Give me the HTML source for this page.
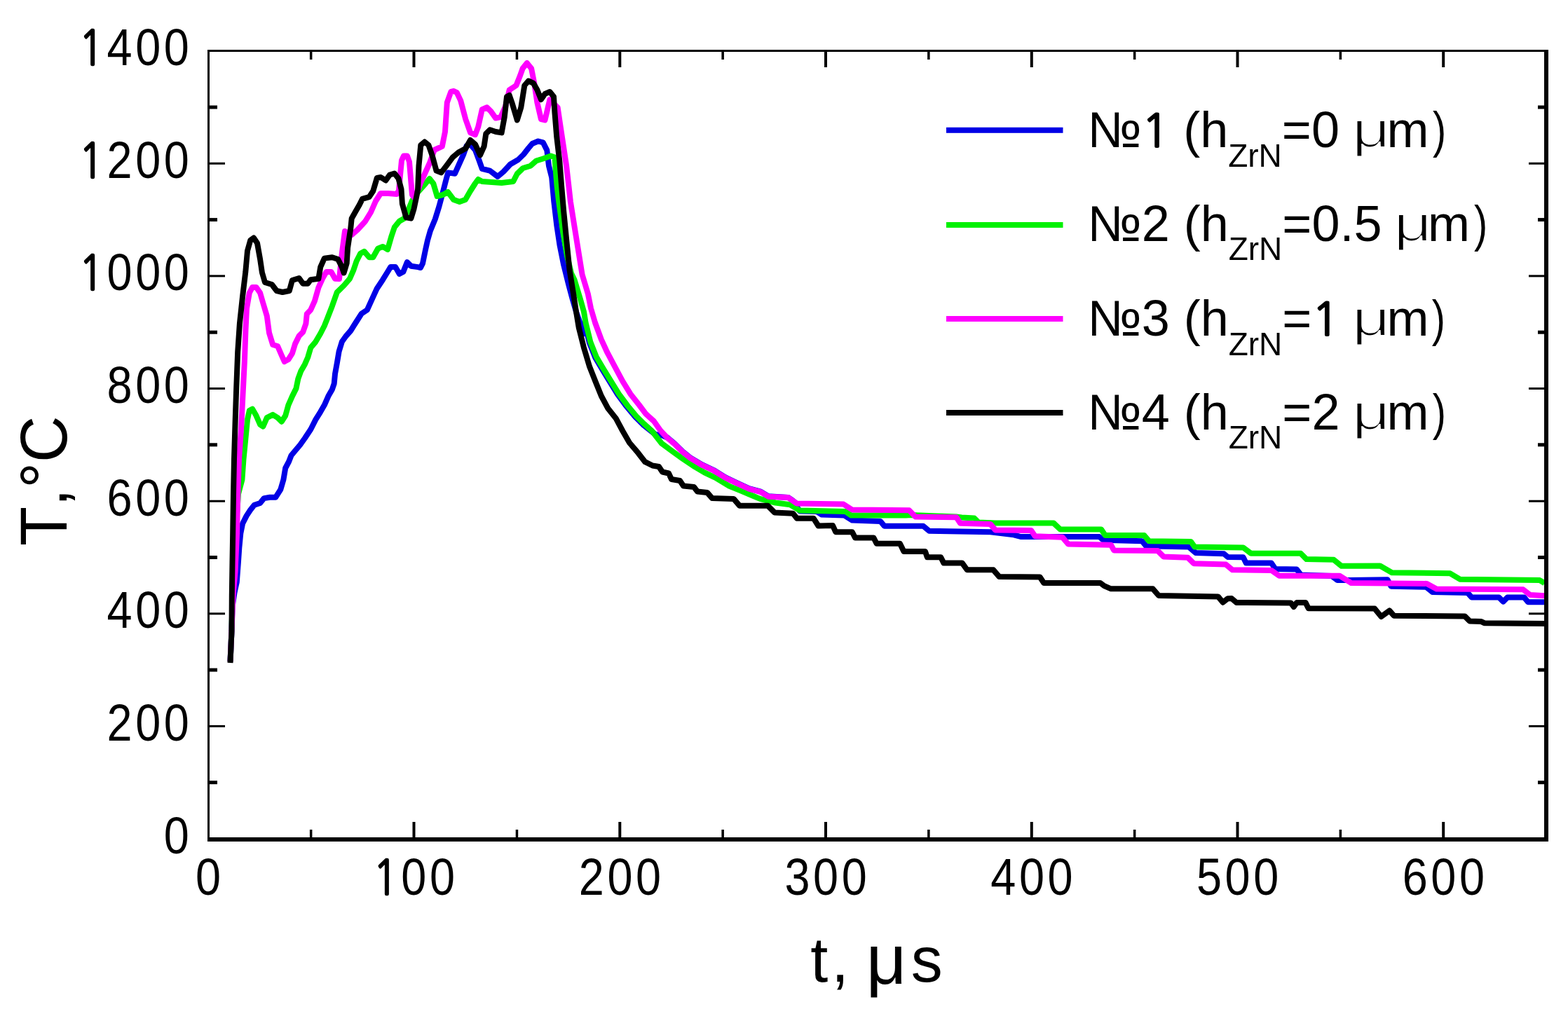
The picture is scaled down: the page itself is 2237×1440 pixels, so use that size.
<!DOCTYPE html>
<html><head><meta charset="utf-8"><title>T vs t</title>
<style>html,body{margin:0;padding:0;background:#fff;}svg{display:block;}text{font-family:'Liberation Sans', Arial, Helvetica, sans-serif;fill:#000;font-kerning:none;font-feature-settings:"kern" 0;}.one{font-family:NanumGothic,"Liberation Sans",sans-serif;}</style></head><body>
<svg xmlns="http://www.w3.org/2000/svg" width="2237" height="1440" viewBox="0 0 2237 1440">
<rect x="0" y="0" width="2237" height="1440" fill="#fff"/>
<path d="M328.5 944.0 L330.5 900.0 L331.5 866.0 L334.5 846.0 L337.8 830.6 L339.9 802.8 L341.3 781.9 L343.3 761.1 L346.1 747.2 L351.7 736.1 L357.2 727.8 L362.8 720.8 L371.1 718.0 L376.7 711.1 L385.0 709.7 L393.3 709.7 L400.3 698.6 L404.4 684.7 L407.2 668.0 L412.0 659.0 L415.5 650.0 L421.1 643.3 L428.1 635.0 L435.0 625.3 L443.3 612.8 L450.3 598.9 L457.2 587.8 L462.8 578.1 L468.3 565.6 L473.9 555.8 L476.7 547.5 L478.0 533.6 L480.8 518.3 L483.6 501.7 L487.8 487.8 L493.3 480.0 L500.3 472.0 L507.2 461.0 L515.6 447.8 L523.9 442.2 L530.8 426.9 L537.8 411.7 L546.1 399.2 L553.0 388.0 L557.2 381.1 L564.2 381.1 L569.7 390.8 L575.3 388.0 L580.8 374.2 L586.4 379.7 L596.1 381.1 L600.0 382.0 L603.0 376.0 L606.9 357.0 L610.0 343.0 L613.9 329.4 L620.8 312.8 L626.4 294.7 L631.9 273.9 L636.0 258.0 L639.2 246.4 L648.9 247.8 L655.8 232.5 L661.4 220.0 L665.6 208.0 L671.0 206.0 L678.0 214.0 L683.6 229.0 L687.8 240.8 L698.9 243.6 L710.0 252.0 L718.3 245.0 L728.0 234.5 L739.2 228.0 L746.9 220.5 L753.9 211.5 L759.4 205.0 L767.8 201.5 L774.7 203.3 L780.3 214.4 L783.0 236.7 L787.2 253.3 L790.3 287.8 L794.4 322.5 L798.6 350.3 L804.2 378.1 L811.1 405.8 L816.7 426.7 L822.0 445.0 L828.0 462.0 L834.0 476.0 L834.1 461.8 L841.0 489.6 L849.3 510.4 L859.1 527.1 L870.2 545.2 L881.3 563.2 L893.8 580.0 L906.3 595.0 L917.4 606.0 L935.0 620.0 L945.0 621.5 L952.2 624.5 L962.3 633.0 L973.5 644.2 L984.7 653.1 L1001.5 663.2 L1018.2 671.0 L1035.0 681.4 L1051.7 689.3 L1068.5 697.1 L1085.3 701.6 L1096.4 708.3 L1124.4 709.9 L1130.0 713.5 L1135.0 717.5 L1138.0 725.0 L1141.0 729.5 L1165.0 730.0 L1172.0 734.5 L1204.7 735.6 L1215.8 742.5 L1256.1 743.9 L1261.7 750.8 L1317.2 750.8 L1325.6 757.8 L1413.1 759.2 L1446.4 763.3 L1456.1 766.0 L1525.3 766.0 L1568.3 766.0 L1573.9 770.8 L1629.4 772.2 L1635.0 779.2 L1696.1 780.6 L1705.8 788.9 L1746.1 790.3 L1751.7 795.0 L1773.6 795.3 L1777.8 803.6 L1813.9 803.6 L1819.4 811.9 L1850.0 812.6 L1856.0 820.5 L1900.0 822.0 L1908.0 828.0 L1925.0 828.0 L1979.5 827.3 L1984.5 836.7 L2034.5 837.7 L2043.5 845.0 L2093.9 846.1 L2099.4 852.4 L2138.3 852.4 L2144.6 858.6 L2150.8 852.4 L2174.4 852.4 L2180.0 859.3 L2203.6 859.3" fill="none" stroke="#0000e6" stroke-width="8" stroke-linejoin="round" stroke-linecap="butt"/>
<path d="M328.5 944.0 L330.5 900.0 L331.8 850.0 L334.5 790.0 L337.5 740.0 L340.0 705.0 L345.4 684.7 L347.5 655.0 L350.3 626.7 L353.0 598.9 L355.8 586.0 L360.0 583.6 L365.6 593.3 L371.1 605.8 L375.3 608.6 L380.8 596.1 L389.2 591.9 L396.1 596.1 L401.7 601.7 L407.2 593.3 L411.4 578.1 L416.9 565.6 L422.5 554.4 L425.3 540.6 L429.4 529.4 L435.0 519.7 L439.2 510.0 L443.3 496.1 L450.3 487.8 L457.2 476.0 L462.8 465.0 L466.9 454.7 L473.9 436.7 L480.8 417.2 L490.6 407.5 L498.9 397.8 L504.4 385.3 L508.6 372.8 L514.2 361.7 L519.7 358.9 L526.7 367.2 L532.2 367.2 L539.2 354.7 L546.1 351.9 L553.0 356.1 L558.6 336.7 L562.8 324.2 L569.7 315.8 L576.7 311.7 L582.2 300.6 L587.8 286.7 L596.1 274.2 L601.7 268.0 L607.0 262.0 L612.8 255.0 L618.3 262.0 L623.6 280.0 L631.9 278.0 L638.9 273.9 L647.2 285.0 L655.6 288.0 L663.9 285.0 L670.8 273.0 L677.8 262.0 L682.2 256.0 L687.8 259.0 L701.7 260.0 L715.6 261.0 L732.2 259.0 L737.8 248.0 L746.1 240.0 L756.7 236.7 L765.0 229.5 L774.7 226.5 L785.8 222.5 L791.4 224.5 L792.8 243.6 L794.5 265.0 L797.2 287.8 L803.0 330.0 L809.0 365.0 L815.0 390.0 L819.4 399.0 L827.8 426.7 L833.0 445.0 L835.6 460.8 L842.5 488.6 L850.8 509.4 L860.6 526.1 L871.7 544.2 L882.8 562.2 L895.3 579.0 L907.8 594.0 L918.9 605.0 L930.0 615.0 L943.9 632.8 L957.8 643.0 L974.4 655.0 L991.1 666.1 L1005.0 674.4 L1020.4 681.6 L1040.6 693.9 L1057.3 700.6 L1074.4 707.8 L1084.2 711.9 L1106.4 717.5 L1127.2 720.3 L1141.1 728.6 L1206.1 730.0 L1214.4 735.6 L1292.2 735.6 L1300.0 735.0 L1364.0 737.5 L1372.0 738.5 L1390.0 739.5 L1396.0 745.5 L1420.0 746.6 L1503.1 746.5 L1512.8 755.6 L1571.1 755.6 L1576.7 763.9 L1632.2 763.9 L1639.2 772.2 L1698.9 772.9 L1704.4 780.6 L1773.6 781.4 L1784.7 789.7 L1855.6 789.7 L1863.9 798.1 L1902.8 798.8 L1913.9 807.8 L1968.9 807.5 L1985.8 817.2 L2068.9 818.3 L2082.8 826.7 L2196.7 828.1 L2203.6 832.2" fill="none" stroke="#00f000" stroke-width="8" stroke-linejoin="round" stroke-linecap="butt"/>
<path d="M328.5 944.0 L330.5 900.0 L332.5 850.0 L335.5 816.7 L338.0 761.1 L339.3 705.6 L341.0 655.0 L344.0 612.8 L346.1 571.1 L348.9 515.6 L350.5 470.0 L352.0 440.0 L355.8 418.0 L360.0 410.0 L365.6 410.0 L371.1 418.0 L375.3 432.5 L380.8 451.0 L384.0 475.0 L389.2 492.0 L396.1 494.0 L401.7 507.0 L405.8 516.0 L411.4 513.0 L416.9 504.4 L421.1 490.6 L426.7 479.4 L432.2 473.9 L436.4 462.0 L437.8 448.0 L443.3 442.2 L448.9 429.7 L454.4 410.3 L460.0 397.8 L465.6 388.0 L472.5 388.0 L478.0 397.8 L484.0 398.0 L488.0 360.0 L492.0 330.0 L497.0 333.0 L502.0 335.0 L510.0 328.0 L521.0 316.0 L529.0 303.0 L536.0 287.0 L543.0 276.0 L554.0 276.0 L566.0 277.0 L569.0 272.0 L571.0 250.0 L573.0 229.0 L576.0 222.5 L581.0 222.5 L584.0 231.0 L586.0 255.0 L588.0 278.0 L591.0 282.0 L595.0 275.0 L600.0 261.0 L606.0 248.0 L612.8 233.0 L619.7 214.0 L630.8 208.9 L635.0 188.0 L637.8 146.4 L643.3 131.0 L647.5 130.0 L651.7 132.0 L657.2 143.6 L664.2 170.0 L671.1 189.4 L678.0 192.2 L682.2 181.1 L687.8 156.1 L694.7 153.3 L700.3 158.9 L707.2 168.6 L714.2 167.2 L721.1 152.0 L726.7 128.3 L736.4 122.0 L742.0 108.0 L745.6 97.8 L751.8 90.0 L758.1 97.8 L762.2 118.6 L766.4 146.4 L771.9 170.0 L777.5 171.4 L781.7 153.3 L784.4 142.2 L790.0 148.0 L795.6 153.3 L799.7 181.1 L803.9 208.9 L808.1 236.7 L811.0 262.0 L813.9 287.8 L819.4 322.5 L825.0 357.2 L830.6 391.9 L838.9 419.7 L843.0 440.0 L849.0 460.5 L857.8 484.4 L866.1 502.5 L877.2 523.3 L888.3 544.2 L899.4 562.2 L911.9 578.0 L921.7 591.1 L932.8 601.0 L942.5 614.7 L952.2 625.0 L962.3 633.5 L973.5 644.7 L984.7 653.6 L1001.5 663.7 L1018.2 671.5 L1035.0 681.9 L1051.7 689.8 L1068.5 697.6 L1085.3 702.1 L1096.4 708.8 L1124.4 709.9 L1136.6 718.5 L1203.3 719.5 L1215.8 727.5 L1297.0 728.3 L1306.0 737.5 L1364.4 738.3 L1370.0 746.7 L1413.1 748.1 L1420.0 756.4 L1471.1 756.9 L1476.7 765.3 L1515.6 766.7 L1523.9 776.4 L1585.0 777.8 L1589.2 785.4 L1651.7 786.1 L1660.0 794.4 L1694.7 795.8 L1703.1 804.2 L1748.9 805.6 L1758.3 813.3 L1813.9 814.0 L1825.0 821.7 L1911.1 821.7 L1927.8 832.1 L2035.6 832.9 L2049.4 840.6 L2173.0 841.3 L2182.8 848.9 L2203.6 850.3" fill="none" stroke="#ff00ff" stroke-width="8" stroke-linejoin="round" stroke-linecap="butt"/>
<path d="M328.5 946.0 L330.5 900.0 L330.8 850.0 L331.5 803.0 L332.2 761.0 L333.0 706.0 L334.0 655.0 L335.7 599.0 L337.1 557.0 L339.2 502.0 L341.9 462.0 L346.1 423.0 L350.3 388.0 L353.0 358.0 L357.2 343.0 L362.0 339.5 L367.0 347.0 L371.1 370.0 L373.9 389.0 L378.0 403.0 L387.8 406.0 L394.7 415.0 L403.0 417.0 L412.8 415.0 L416.9 400.0 L426.7 397.0 L432.2 404.7 L439.2 404.7 L443.3 399.2 L454.4 397.8 L457.2 381.1 L462.8 368.6 L473.9 367.2 L482.2 370.0 L487.8 381.1 L490.6 389.4 L494.7 375.6 L496.1 353.3 L500.3 325.6 L501.7 311.7 L507.2 302.0 L512.8 292.2 L516.9 283.9 L526.7 281.1 L532.2 272.8 L537.8 254.0 L543.3 253.0 L550.3 257.5 L556.0 249.5 L562.8 247.5 L568.5 254.7 L572.5 270.0 L573.9 290.8 L579.4 310.3 L586.4 311.7 L590.6 297.8 L594.7 278.3 L596.1 270.0 L597.5 236.7 L600.3 207.0 L605.8 202.5 L611.4 207.0 L616.9 222.8 L622.5 243.6 L629.4 246.4 L637.8 235.3 L646.1 224.2 L654.4 217.2 L664.2 212.0 L671.0 200.0 L678.0 206.0 L685.0 221.4 L690.6 208.9 L693.3 190.8 L698.9 185.3 L707.2 188.0 L715.6 189.4 L719.7 167.2 L723.0 138.0 L726.7 136.0 L730.8 147.8 L737.8 171.4 L743.3 153.3 L748.3 122.0 L753.9 115.5 L760.8 118.6 L766.4 128.3 L771.9 142.0 L777.5 133.9 L784.4 131.0 L790.0 138.1 L791.4 160.3 L794.2 195.0 L798.3 229.7 L801.1 265.0 L804.2 301.7 L808.3 343.3 L812.5 385.0 L818.1 419.7 L822.0 445.0 L825.8 467.8 L832.8 495.6 L841.1 523.3 L849.4 544.2 L857.8 565.0 L867.5 583.1 L878.6 596.9 L888.3 615.0 L898.1 632.0 L910.6 646.7 L920.3 659.2 L931.0 664.5 L940.0 666.0 L945.0 673.5 L954.0 675.5 L958.0 684.0 L970.0 686.0 L975.0 693.5 L990.0 695.0 L995.0 701.5 L1009.0 703.0 L1016.0 711.0 L1046.7 711.9 L1055.0 721.7 L1095.3 721.7 L1105.0 731.4 L1131.4 732.8 L1136.9 739.7 L1160.6 739.7 L1167.5 750.5 L1188.1 750.1 L1192.2 759.2 L1215.8 759.2 L1220.0 767.5 L1246.4 767.5 L1250.6 775.8 L1283.9 775.8 L1289.4 786.9 L1320.0 786.9 L1322.8 795.3 L1342.2 795.3 L1346.4 803.6 L1372.8 803.6 L1379.7 813.3 L1417.2 813.3 L1425.6 823.1 L1483.6 823.6 L1489.2 831.9 L1569.7 831.9 L1575.3 836.1 L1585.0 840.3 L1644.7 840.3 L1653.1 850.0 L1737.8 851.4 L1744.7 859.7 L1751.7 854.2 L1757.0 854.0 L1764.0 860.0 L1841.7 860.6 L1845.8 866.1 L1850.0 859.9 L1862.5 859.9 L1866.7 868.2 L1961.1 868.5 L1970.5 880.0 L1982.3 871.5 L1988.6 878.7 L2089.7 879.4 L2096.7 886.4 L2113.3 887.1 L2117.5 889.2 L2203.6 889.9" fill="none" stroke="#000" stroke-width="8" stroke-linejoin="round" stroke-linecap="butt"/>
<g fill="#000">
<rect x="296" y="71" width="3" height="1130" />
<rect x="296" y="71" width="1913" height="3"/>
<rect x="2203" y="71" width="6" height="1130"/>
<rect x="296" y="1195" width="1913" height="6"/>
<rect x="441.9" y="1184" width="3.5" height="11"/>
<rect x="441.9" y="74" width="3.5" height="11"/>
<rect x="588.5" y="1173" width="4" height="22"/>
<rect x="588.5" y="74" width="4" height="22"/>
<rect x="735.7" y="1184" width="3.5" height="11"/>
<rect x="735.7" y="74" width="3.5" height="11"/>
<rect x="882.3" y="1173" width="4" height="22"/>
<rect x="882.3" y="74" width="4" height="22"/>
<rect x="1029.4" y="1184" width="3.5" height="11"/>
<rect x="1029.4" y="74" width="3.5" height="11"/>
<rect x="1176.0" y="1173" width="4" height="22"/>
<rect x="1176.0" y="74" width="4" height="22"/>
<rect x="1323.1" y="1184" width="3.5" height="11"/>
<rect x="1323.1" y="74" width="3.5" height="11"/>
<rect x="1469.8" y="1173" width="4" height="22"/>
<rect x="1469.8" y="74" width="4" height="22"/>
<rect x="1616.9" y="1184" width="3.5" height="11"/>
<rect x="1616.9" y="74" width="3.5" height="11"/>
<rect x="1763.5" y="1173" width="4" height="22"/>
<rect x="1763.5" y="74" width="4" height="22"/>
<rect x="1910.6" y="1184" width="3.5" height="11"/>
<rect x="1910.6" y="74" width="3.5" height="11"/>
<rect x="2057.2" y="1173" width="4" height="22"/>
<rect x="2057.2" y="74" width="4" height="22"/>
<rect x="299" y="1114.2" width="11" height="5"/>
<rect x="2194" y="1114.2" width="11" height="5"/>
<rect x="299" y="1034.9" width="22" height="3"/>
<rect x="2181" y="1034.9" width="22" height="3"/>
<rect x="299" y="953.6" width="11" height="5"/>
<rect x="2194" y="953.6" width="11" height="5"/>
<rect x="299" y="874.3" width="22" height="3"/>
<rect x="2181" y="874.3" width="22" height="3"/>
<rect x="299" y="793.0" width="11" height="5"/>
<rect x="2194" y="793.0" width="11" height="5"/>
<rect x="299" y="713.7" width="22" height="3"/>
<rect x="2181" y="713.7" width="22" height="3"/>
<rect x="299" y="632.3" width="11" height="5"/>
<rect x="2194" y="632.3" width="11" height="5"/>
<rect x="299" y="553.0" width="22" height="3"/>
<rect x="2181" y="553.0" width="22" height="3"/>
<rect x="299" y="471.7" width="11" height="5"/>
<rect x="2194" y="471.7" width="11" height="5"/>
<rect x="299" y="392.4" width="22" height="3"/>
<rect x="2181" y="392.4" width="22" height="3"/>
<rect x="299" y="311.1" width="11" height="5"/>
<rect x="2194" y="311.1" width="11" height="5"/>
<rect x="299" y="231.8" width="22" height="3"/>
<rect x="2181" y="231.8" width="22" height="3"/>
<rect x="299" y="150.5" width="11" height="5"/>
<rect x="2194" y="150.5" width="11" height="5"/>
</g>
<text transform="translate(274.5 1217.5) scale(0.9 1.04)" font-size="72" letter-spacing="5.1" text-anchor="end">0</text>
<text transform="translate(274.5 1056.9) scale(0.9 1.04)" font-size="72" letter-spacing="5.1" text-anchor="end">200</text>
<text transform="translate(274.5 896.3) scale(0.9 1.04)" font-size="72" letter-spacing="5.1" text-anchor="end">400</text>
<text transform="translate(274.5 735.7) scale(0.9 1.04)" font-size="72" letter-spacing="5.1" text-anchor="end">600</text>
<text transform="translate(274.5 575.0) scale(0.9 1.04)" font-size="72" letter-spacing="5.1" text-anchor="end">800</text>
<text transform="translate(274.5 414.4) scale(0.9 1.04)" font-size="72" letter-spacing="5.1" text-anchor="end"><tspan class="one" font-size="65.2" stroke="#000" stroke-width="2.2" stroke-linejoin="miter">1</tspan>000</text>
<text transform="translate(274.5 253.8) scale(0.9 1.04)" font-size="72" letter-spacing="5.1" text-anchor="end"><tspan class="one" font-size="65.2" stroke="#000" stroke-width="2.2" stroke-linejoin="miter">1</tspan>200</text>
<text transform="translate(274.5 93.2) scale(0.9 1.04)" font-size="72" letter-spacing="5.1" text-anchor="end"><tspan class="one" font-size="65.2" stroke="#000" stroke-width="2.2" stroke-linejoin="miter">1</tspan>400</text>
<text transform="translate(299.2 1277.3) scale(0.9 1.04)" font-size="72" letter-spacing="5.1" text-anchor="middle">0</text>
<text transform="translate(592.9 1277.3) scale(0.9 1.04)" font-size="72" letter-spacing="5.1" text-anchor="middle"><tspan class="one" font-size="65.2" stroke="#000" stroke-width="2.2" stroke-linejoin="miter">1</tspan>00</text>
<text transform="translate(886.7 1277.3) scale(0.9 1.04)" font-size="72" letter-spacing="5.1" text-anchor="middle">200</text>
<text transform="translate(1180.4 1277.3) scale(0.9 1.04)" font-size="72" letter-spacing="5.1" text-anchor="middle">300</text>
<text transform="translate(1474.2 1277.3) scale(0.9 1.04)" font-size="72" letter-spacing="5.1" text-anchor="middle">400</text>
<text transform="translate(1767.9 1277.3) scale(0.9 1.04)" font-size="72" letter-spacing="5.1" text-anchor="middle">500</text>
<text transform="translate(2061.6 1277.3) scale(0.9 1.04)" font-size="72" letter-spacing="5.1" text-anchor="middle">600</text>
<text transform="translate(95.3 779) rotate(-90) scale(1 1.03)" font-size="92" word-spacing="-25">T, °C</text>
<text font-size="90" y="1400.5"><tspan x="1156.3">t</tspan><tspan x="1186">,</tspan><tspan x="1235.8" font-size="100" dy="3">μ</tspan><tspan x="1299.7" dy="-3">s</tspan></text>
<rect x="1350" y="181.8" width="166.5" height="8" fill="#0000e6"/>
<g font-size="72"><text x="1551.4" y="210.2">№<tspan class="one" font-size="65.2" stroke="#000" stroke-width="2.2" stroke-linejoin="miter">1</tspan> (h<tspan font-size="46" dy="27.5">ZrN</tspan><tspan dy="-27.5">=</tspan>0 </text><text transform="translate(1928.7 210.2) scale(1.32 1)" stroke="#fff" stroke-width="2.0">μ</text><text x="1978.4" y="210.2">m</text><text transform="translate(2043.9 210.2) scale(0.8 1)">)</text></g>
<rect x="1350" y="317.0" width="166.5" height="8" fill="#00f000"/>
<g font-size="72"><text x="1551.4" y="343.9">№2 (h<tspan font-size="46" dy="27.5">ZrN</tspan><tspan dy="-27.5">=</tspan>0.5 </text><text transform="translate(1988.2 343.9) scale(1.32 1)" stroke="#fff" stroke-width="2.0">μ</text><text x="2036.9" y="343.9">m</text><text transform="translate(2103.0 343.9) scale(0.8 1)">)</text></g>
<rect x="1350" y="451.0" width="166.5" height="8" fill="#ff00ff"/>
<g font-size="72"><text x="1551.4" y="479.3">№3 (h<tspan font-size="46" dy="27.5">ZrN</tspan><tspan dy="-27.5">=</tspan><tspan class="one" font-size="65.2" stroke="#000" stroke-width="2.2" stroke-linejoin="miter">1</tspan> </text><text transform="translate(1928.7 479.3) scale(1.32 1)" stroke="#fff" stroke-width="2.0">μ</text><text x="1978.4" y="479.3">m</text><text transform="translate(2042.7 479.3) scale(0.8 1)">)</text></g>
<rect x="1350" y="585.0" width="166.5" height="8" fill="#000"/>
<g font-size="72"><text x="1551.4" y="612.5">№4 (h<tspan font-size="46" dy="27.5">ZrN</tspan><tspan dy="-27.5">=</tspan>2 </text><text transform="translate(1928.7 612.5) scale(1.32 1)" stroke="#fff" stroke-width="2.0">μ</text><text x="1978.4" y="612.5">m</text><text transform="translate(2043.7 612.5) scale(0.8 1)">)</text></g>
</svg></body></html>
